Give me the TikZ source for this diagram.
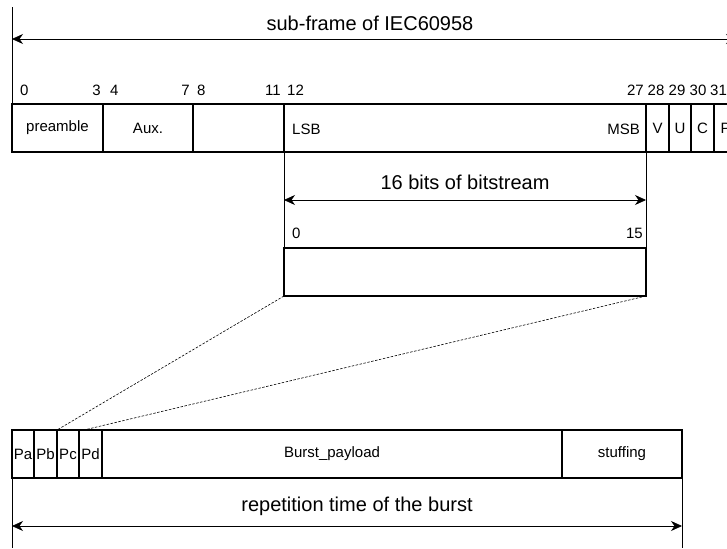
\documentclass[tikz,border=0pt]{standalone}
\usepackage{fontspec}
\setmainfont{Liberation Sans}
\usetikzlibrary{arrows.meta}
\newcommand\lblsz{\fontsize{15}{18}\selectfont}
\newcommand\ttlsz{\fontsize{20}{24}\selectfont}
\begin{document}
\begin{tikzpicture}[x=1pt,y=-1pt,
  cell/.style={draw, line width=1.1pt, inner sep=0pt, outer sep=0pt, anchor=north west, minimum height=48pt, font=\lblsz},
  lbl/.style={inner sep=0pt, font=\lblsz},
  ttl/.style={inner sep=0pt, font=\ttlsz, anchor=base},
  thinln/.style={line width=0.7pt},
  dimarr/.style={line width=0.7pt, {Stealth[length=11pt,width=10pt,inset=3.5pt]}-{Stealth[length=11pt,width=10pt,inset=3.5pt]}},
  dsh/.style={line width=0.6pt, dash pattern=on 2.5pt off 1.5pt}]
\useasboundingbox (0,0) rectangle (727,548);
% sub-frame
\node[cell, minimum width=91pt] (pre) at (12,104) {preamble};
\node[cell, minimum width=90pt] (aux) at (103,104) {Aux.};
\node[cell, minimum width=91pt] (blank) at (193,104) {};
\node[cell, minimum width=362pt] (data) at (284,104) {};
\node[cell, minimum width=23pt] (V) at (646,104) {V};
\node[cell, minimum width=22pt] (U) at (669,104) {U};
\node[cell, minimum width=23pt] (C) at (691,104) {C};
\node[cell, minimum width=23pt] (P) at (714,104) {P};
\node[lbl, anchor=west] (lsb) at (292,129) {LSB};
\node[lbl, anchor=east] (msb) at (640,129) {MSB};
% bit numbers
\node[lbl, anchor=west] (n0) at (20,90) {0};
\node[lbl, anchor=east] (n3) at (101,90) {3};
\node[lbl, anchor=west] (n4) at (110,90) {4};
\node[lbl, anchor=east] (n7) at (190,90) {7};
\node[lbl, anchor=west] (n8) at (197,90) {8};
\node[lbl, anchor=east] (n11) at (281,90) {11};
\node[lbl, anchor=west] (n12) at (287,90) {12};
\node[lbl, anchor=east] (n27) at (644,90) {27};
\node[lbl] (n28) at (656,90) {28};
\node[lbl] (n29) at (677,90) {29};
\node[lbl] (n30) at (698,90) {30};
\node[lbl, anchor=west] (n31) at (710,90) {31};
% title arrow
\coordinate (vtop) at (12,7);
\coordinate (tl) at (12,39);
\coordinate (tr) at (737,39);
\draw[thinln] (pre.north west) -- (vtop);
\draw[dimarr] (tl) -- (tr);
\node[ttl] (title) at (370,31) {sub-frame of IEC60958};
% 16 bits
\node[cell, minimum width=362pt] (bits) at (284,248) {};
\node[lbl, anchor=west] (b0) at (292,233) {0};
\node[lbl, anchor=east] (b15) at (643,233) {15};
\draw[thinln] (data.south west) -- (bits.north west);
\draw[thinln] (data.south east) -- (bits.north east);
\coordinate (bl) at (284,200);
\coordinate (br) at (646,200);
\draw[dimarr] (bl) -- (br);
\node[ttl] (bitstitle) at (465,189) {16 bits of bitstream};
% burst
\node[cell, minimum width=22pt] (Pa) at (12,430) {Pa};
\node[cell, minimum width=23pt] (Pb) at (34,430) {Pb};
\node[cell, minimum width=22pt] (Pc) at (57,430) {Pc};
\node[cell, minimum width=23pt] (Pd) at (79,430) {Pd};
\node[cell, minimum width=460pt] (pay) at (102,430) {Burst\_payload};
\node[cell, minimum width=120pt] (stuff) at (562,430) {stuffing};
\coordinate (pdt) at (84,430);
\draw[dsh] (bits.south west) -- (Pc.north west);
\draw[dsh] (bits.south east) -- (pdt);
% repetition
\coordinate (lbot) at (12,548);
\coordinate (rbot) at (682,548);
\draw[thinln] (Pa.south west) -- (lbot);
\draw[thinln] (stuff.south east) -- (rbot);
\coordinate (al) at (12,526);
\coordinate (ar) at (682,526);
\draw[dimarr] (al) -- (ar);
\node[ttl] (reptitle) at (357,511) {repetition time of the burst};
\end{tikzpicture}
\end{document}
